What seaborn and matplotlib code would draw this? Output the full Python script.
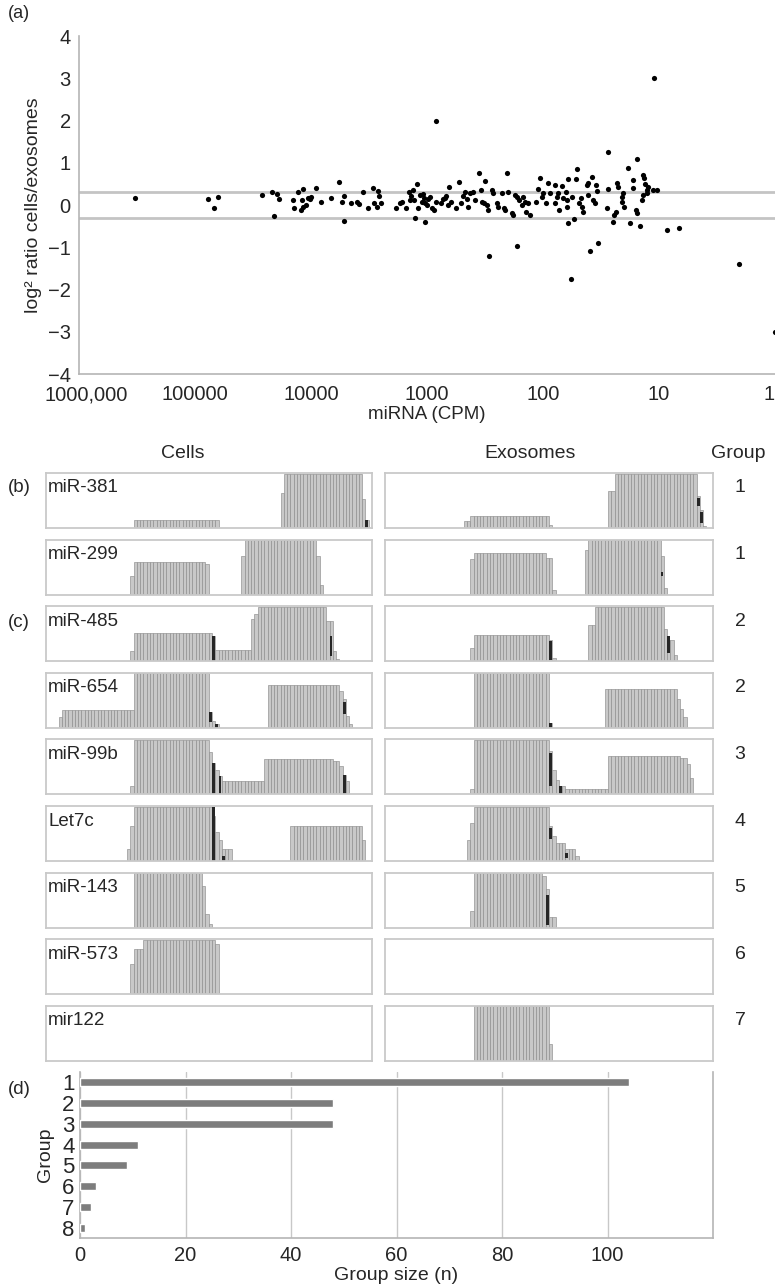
import numpy as np
import matplotlib
matplotlib.use('Agg')
import matplotlib.pyplot as plt
import matplotlib.transforms as mtransforms
import seaborn as sns
import pandas as pd

# ---- panel (a): log10(CPM) and log2 ratio cells/exosomes
log_cpm = [
    5.52, 4.89, 4.84, 4.80,
    4.425, 4.339, 4.296, 4.273, 4.316, 4.152, 4.143, 4.109, 4.080, 4.071, 4.086, 4.066,
    4.043, 4.023, 4.008, 4.000, 3.957, 3.913, 3.830, 3.755, 3.730, 3.712, 3.715, 3.658,
    3.606, 3.589, 3.549, 3.505, 3.468, 3.457, 3.434, 3.419, 3.416, 3.399, 3.270, 3.232,
    3.218, 3.184, 3.155, 3.146, 3.138, 3.123, 3.109, 3.086, 3.074, 3.103, 3.060, 3.046,
    3.031, 3.026, 3.017, 3.020, 3.003, 2.988, 2.974, 2.954, 2.939, 2.922, 2.882, 2.859,
    2.845, 2.836, 2.822, 2.807, 2.796, 2.750, 2.727, 2.704, 2.687, 2.672, 2.658, 2.643,
    2.630, 2.601, 2.587, 2.549, 2.538, 2.523, 2.500, 2.509, 2.480, 2.472, 2.443, 2.434,
    2.400, 2.386, 2.357, 2.334, 2.328, 2.308, 2.299, 2.271, 2.256, 2.242, 2.227, 2.204,
    2.184, 2.170, 2.156, 2.147, 2.133, 2.113, 2.061, 2.041, 2.026, 2.012, 1.998, 1.975,
    1.955, 1.940, 1.897, 1.897, 1.883, 1.868, 1.860, 1.840, 1.825, 1.802, 1.796, 1.791,
    1.788, 1.782, 1.753, 1.730, 1.719, 1.710, 1.690, 1.676, 1.667, 1.653, 1.624, 1.615,
    1.610, 1.581, 1.572, 1.552, 1.544, 1.538, 1.452, 1.437, 1.400, 1.388, 1.374, 1.365,
    1.351, 1.322, 1.317, 1.308, 1.302, 1.265, 1.250, 1.227, 1.222, 1.202, 1.193, 1.164,
    1.150, 1.141, 1.136, 1.127, 1.118, 1.107, 1.107, 1.092, 1.050, 1.021,
    2.926, 1.039, 1.44, 1.19, 2.466, 2.224, 1.76, 1.595, 1.53, 0.93, 0.83, 0.31, 0.0,
]
log_ratio = [
    0.16, 0.14, -0.08, 0.19,
    0.236, 0.30, 0.26, 0.134, -0.26, 0.118, -0.063, 0.315, 0.118, 0.37, -0.118, -0.04,
    0.0, 0.158, 0.134, 0.197, 0.394, 0.063, 0.173, 0.536, 0.063, 0.213, -0.378, 0.04,
    0.079, 0.024, 0.315, -0.079, 0.41, 0.04, -0.055, 0.33, 0.213, 0.04, -0.079, 0.04,
    0.079, -0.079, 0.315, 0.118, 0.213, 0.355, 0.118, 0.496, -0.063, -0.315, 0.236, 0.079,
    0.26, 0.158, 0.04, -0.394, 0.0, 0.134, 0.197, -0.079, -0.118, 0.079, 0.04, 0.134,
    0.158, 0.213, 0.0, 0.433, 0.079, -0.063, 0.544, 0.04, 0.213, 0.315, 0.134, -0.04,
    0.276, 0.315, 0.118, 0.749, 0.355, 0.079, 0.56, 0.055, 0.0, -0.118, 0.355, 0.276,
    0.04, -0.04, 0.276, -0.079, -0.118, 0.749, 0.30, -0.197, -0.236, 0.236, 0.197, 0.118,
    0.0, 0.197, 0.079, -0.158, 0.04, -0.236, 0.079, 0.37, 0.63, 0.181, 0.276, 0.04,
    0.528, 0.276, 0.473, 0.04, 0.197, 0.276, -0.118, 0.449, 0.158, 0.315, 0.118, -0.04,
    -0.418, 0.623, 0.197, -0.339, 0.615, 0.843, 0.04, 0.158, -0.04, -0.158, 0.473, 0.236,
    0.528, 0.67, 0.118, 0.04, 0.473, 0.339, -0.079, 0.37, -0.394, -0.236, -0.158, 0.512,
    0.433, 0.197, 0.079, 0.292, -0.04, 0.867, -0.433, 0.59, 0.394, -0.118, -0.197, -0.496,
    0.118, 0.236, 0.709, 0.63, 0.496, 0.355, 0.276, 0.433, 0.355, 0.355,
    2.0, 3.0, 1.25, 1.1, -1.2, -0.96, -1.75, -1.08, -0.9, -0.59, -0.55, -1.4, -3.0,
]
cpm_ticks = [1e6, 1e5, 1e4, 1e3, 1e2, 1e1, 1]
cpm_tick_labels = ['1000,000', '100000', '10000', '1000', '100', '10', '1']

# ---- panels (b)/(c): read coverage, runs of (start, end, height) on a 0-100 track
mirnas = ['miR-381', 'miR-299', 'miR-485', 'miR-654', 'miR-99b', 'Let7c', 'miR-143', 'miR-573', 'mir122']
mirna_groups = ['1', '1', '2', '2', '3', '4', '5', '6', '7']

cells_runs = [
    [(27, 53, 0.15), (72, 73, 0.64), (73, 97, 0.98), (97, 98, 0.52), (98, 99, 0.15)],
    [(26, 27, 0.33), (27, 49, 0.59), (49, 50, 0.56), (60, 61, 0.70), (61, 83, 0.99), (83, 84, 0.70), (84, 85, 0.18)],
    [(26, 27, 0.19), (27, 51, 0.51), (51, 52, 0.45), (52, 63, 0.21), (63, 64, 0.76), (64, 65, 0.85), (65, 86, 0.99),
     (86, 88, 0.73), (88, 89, 0.19), (89, 90, 0.04)],
    [(4, 5, 0.19), (5, 27, 0.33), (27, 50, 0.99), (50, 51, 0.28), (51, 52, 0.13), (52, 53, 0.07),
     (68, 90, 0.77), (90, 91, 0.67), (91, 92, 0.52), (92, 93, 0.22), (93, 94, 0.07)],
    [(26, 27, 0.16), (27, 50, 0.99), (50, 51, 0.77), (51, 52, 0.58), (52, 53, 0.45), (53, 54, 0.33), (54, 67, 0.25),
     (67, 88, 0.65), (88, 90, 0.61), (90, 91, 0.52), (91, 92, 0.36), (92, 93, 0.24)],
    [(25, 26, 0.21), (26, 27, 0.64), (27, 51, 0.99), (51, 52, 0.82), (52, 53, 0.52), (53, 54, 0.39), (54, 57, 0.22),
     (75, 97, 0.64), (97, 98, 0.39)],
    [(27, 48, 0.99), (48, 49, 0.75), (49, 50, 0.25), (50, 51, 0.06)],
    [(26, 27, 0.54), (27, 30, 0.83), (30, 52, 0.99), (52, 53, 0.91)],
    [],
]
exo_runs = [
    [(24, 26, 0.12), (26, 50, 0.21), (50, 51, 0.05), (68, 70, 0.67), (70, 95, 0.98), (95, 96, 0.58), (96, 97, 0.33), (97, 98, 0.04)],
    [(26, 27, 0.64), (27, 49, 0.75), (49, 51, 0.67), (51, 52, 0.09), (61, 62, 0.82), (62, 84, 0.99), (84, 85, 0.70), (85, 86, 0.12)],
    [(26, 27, 0.24), (27, 50, 0.48), (50, 51, 0.39), (51, 52, 0.05), (62, 64, 0.66), (64, 85, 0.99), (85, 86, 0.59),
     (86, 88, 0.39), (88, 89, 0.12)],
    [(27, 50, 0.99), (50, 51, 0.08), (67, 89, 0.70), (89, 90, 0.52), (90, 91, 0.34), (91, 92, 0.19)],
    [(26, 27, 0.09), (27, 50, 0.99), (50, 51, 0.79), (51, 52, 0.45), (52, 53, 0.27), (53, 55, 0.15), (55, 68, 0.10),
     (68, 90, 0.70), (90, 92, 0.67), (92, 93, 0.55), (93, 94, 0.30)],
    [(25, 26, 0.39), (26, 27, 0.70), (27, 50, 0.99), (50, 51, 0.64), (51, 52, 0.45), (52, 55, 0.33), (55, 58, 0.22), (58, 59, 0.09)],
    [(26, 27, 0.30), (27, 48, 0.99), (48, 49, 0.94), (49, 50, 0.70), (50, 52, 0.20)],
    [],
    [(27, 50, 0.99), (50, 51, 0.31)],
]
# mismatch marks (position, bottom, top)
cells_dark = [
    [(98, 0.0, 0.15)], [], [(51, 0.0, 0.45), (87, 0.1, 0.45)],
    [(50, 0.1, 0.28), (52, 0.0, 0.07), (91, 0.25, 0.47)],
    [(51, 0.0, 0.58), (53, 0.0, 0.33), (91, 0.0, 0.36)],
    [(51, 0.0, 0.99), (54, 0.0, 0.1)], [], [], [],
]
exo_dark = [
    [(95, 0.4, 0.55), (96, 0.1, 0.3)], [(84, 0.33, 0.42)], [(50, 0.02, 0.36), (86, 0.15, 0.45)],
    [(50, 0.0, 0.08)], [(50, 0.15, 0.75), (53, 0.0, 0.15)], [(50, 0.4, 0.6), (55, 0.05, 0.15)],
    [(49, 0.05, 0.6)], [], [],
]

# ---- panel (d)
group_ids = ['1', '2', '3', '4', '5', '6', '7', '8']
group_sizes = [104, 48, 48, 11, 9, 3, 2, 1]

sns.set_style('white')
plt.rcParams['font.family'] = ['Liberation Sans', 'DejaVu Sans']
plt.rcParams['axes.unicode_minus'] = True

W, H = 775, 1285
fig = plt.figure(figsize=(W / 100, H / 100), dpi=100)


def box(x0, y0, x1, y1):
    # pixel box (top-left origin) -> figure fraction rect
    return [x0 / W, 1 - y1 / H, (x1 - x0) / W, (y1 - y0) / H]


spine_col = '#b5b5b5'

# (a) scatter
ax = fig.add_axes(box(79, 36, 775, 374))
df_a = pd.DataFrame({'cpm': 10 ** np.array(log_cpm), 'ratio': log_ratio})
ax.axhline(0.3, color='#c4c4c4', lw=2, zorder=1)
ax.axhline(-0.3, color='#c4c4c4', lw=2, zorder=1)
sns.scatterplot(data=df_a, x='cpm', y='ratio', color='black', s=14, linewidth=0, ax=ax, zorder=3)
ax.set_xscale('log')
ax.set_xlim(1e6, 1)
ax.set_ylim(-4, 4)
ax.set_xticks(cpm_ticks)
ax.set_xticklabels(cpm_tick_labels)
ax.minorticks_off()
ax.set_yticks(range(-4, 5))
ax.tick_params(axis='x', labelsize=14.5, length=4, color=spine_col, pad=4)
ax.tick_params(axis='y', labelsize=14.5, length=4, color=spine_col, pad=2)
xlabs = ax.get_xticklabels()
xlabs[0].set_transform(xlabs[0].get_transform() + mtransforms.ScaledTranslation(7 / 100, 0, fig.dpi_scale_trans))
xlabs[-1].set_horizontalalignment('right')
for s in ['top', 'right']:
    ax.spines[s].set_visible(False)
for s in ['left', 'bottom']:
    ax.spines[s].set_color(spine_col)
    ax.spines[s].set_linewidth(1.2)
ax.set_xlabel('miRNA (CPM)', fontsize=13.5, labelpad=1)
ax.set_ylabel('log² ratio cells/exosomes', fontsize=14, labelpad=4)
fig.text(8 / W, 1 - 14 / H, '(a)', fontsize=13, va='center', ha='left')

# (b)/(c) coverage tracks
fig.text(183 / W, 1 - 453 / H, 'Cells', fontsize=14, ha='center', va='center')
fig.text(530 / W, 1 - 453 / H, 'Exosomes', fontsize=14, ha='center', va='center')
fig.text(738 / W, 1 - 453 / H, 'Group', fontsize=14, ha='center', va='center')


def draw_track(axt, runs, dark):
    xs, hs = [], []
    for s, e, h in runs:
        for p in range(s, e):
            xs.append(p)
            hs.append(h)
    if xs:
        axt.bar(xs, hs, width=1, align='edge', color='#c8c8c8', edgecolor='#8d8d8d', linewidth=0.45)
    for p, y0, y1 in dark:
        axt.bar(p, y1 - y0, bottom=y0, width=0.9, align='edge', color='#262626', linewidth=0)
    axt.set_xlim(0, 100)
    axt.set_ylim(0, 1)
    axt.set_xticks([])
    axt.set_yticks([])
    for s in axt.spines.values():
        s.set_color('#c9c9c9')
        s.set_linewidth(1.3)


for i, name in enumerate(mirnas):
    top = 473 + 66.6 * i
    axl = fig.add_axes(box(45.5, top, 372, top + 55))
    draw_track(axl, cells_runs[i], cells_dark[i])
    axr = fig.add_axes(box(385, top, 713, top + 55))
    draw_track(axr, exo_runs[i], exo_dark[i])
    fig.text(48 / W, 1 - (top + 15) / H, name, fontsize=13.5, ha='left', va='center')
    fig.text(740 / W, 1 - (top + 15) / H, mirna_groups[i], fontsize=14, ha='center', va='center')
fig.text(8 / W, 1 - 488 / H, '(b)', fontsize=13.5, ha='left', va='center')
fig.text(8 / W, 1 - 622 / H, '(c)', fontsize=13.5, ha='left', va='center')

# (d) group sizes
axd = fig.add_axes(box(80, 1072, 713, 1238))
df_d = pd.DataFrame({'Group': group_ids, 'n': group_sizes})
sns.barplot(data=df_d, x='n', y='Group', orient='h', color='#7d7d7d', saturation=1,
            width=0.38, ax=axd, zorder=3)
axd.set_xlim(0, 120)
axd.set_xticks([0, 20, 40, 60, 80, 100])
axd.xaxis.grid(True, color='#c8c8c8', lw=1)
axd.set_axisbelow(True)
axd.spines['top'].set_visible(False)
for s in ['left', 'bottom', 'right']:
    axd.spines[s].set_color(spine_col)
    axd.spines[s].set_linewidth(1.2)
axd.tick_params(axis='x', labelsize=14.5, length=4, color=spine_col, pad=2)
axd.tick_params(axis='y', labelsize=16, length=3, color=spine_col, pad=1)
axd.set_xlabel('Group size (n)', fontsize=14, labelpad=1)
axd.set_ylabel('Group', fontsize=14, labelpad=6)
fig.text(8 / W, 1 - 1090 / H, '(d)', fontsize=13.5, ha='left', va='center')

fig.savefig('out.png', dpi=100)
